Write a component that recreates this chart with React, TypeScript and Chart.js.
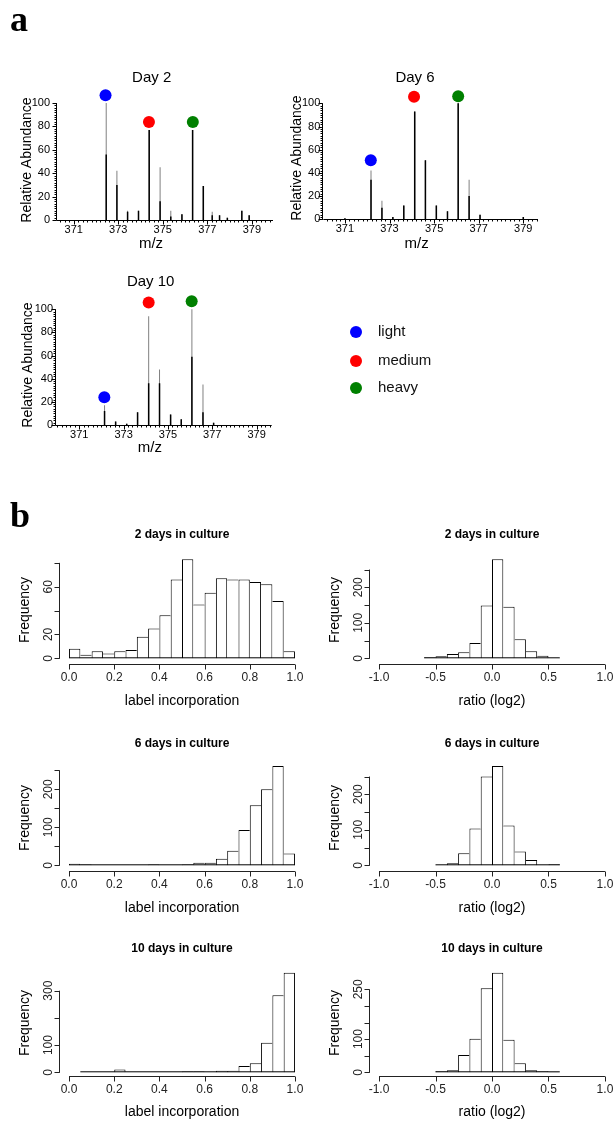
import React, { useEffect, useRef } from "react";
import { Chart, registerables } from "chart.js";

Chart.register(...registerables);

const PAGE_W = 615;
const PAGE_H = 1125;
const SANS = "'Liberation Sans', Arial, Helvetica, sans-serif";
const SERIF = "'Liberation Serif', 'Times New Roman', serif";

// ---------------- Panel a: mass spectra ----------------
const MZ_TICKS = [371, 373, 375, 377, 379];
const MZ_TICK_LABELS = ["371", "373", "375", "377", "379"];
const ABUND_TICKS = [0, 20, 40, 60, 80, 100];
const ABUND_TICK_LABELS = ["0", "20", "40", "60", "80", "100"];

const DAY2_MZ = [372.46, 372.94, 373.42, 373.91, 374.39, 374.88, 375.36, 375.86, 376.34, 376.82, 377.22, 377.55, 377.9, 378.55, 378.88];
const DAY2_TOTAL = [100, 42, 8, 8, 77, 45, 8, 5, 77, 29, 7, 4, 2, 8, 4];
const DAY2_CORE = [56, 30, 7, 8, 77, 16, 3, 5, 77, 29, 4, 4, 2, 8, 4];
const DAY2_DOT_MZ = [372.43, 374.38, 376.35];
const DAY2_DOT_Y = [106.6, 83.7, 83.7];

const DAY6_MZ = [371.0, 372.17, 372.66, 373.15, 373.64, 374.13, 374.61, 375.1, 375.6, 376.08, 376.57, 377.06, 379.0];
const DAY6_TOTAL = [1, 42, 16, 2, 12, 93, 51, 12, 7, 100, 34, 4, 2];
const DAY6_CORE = [1, 34, 10, 2, 12, 93, 51, 12, 7, 100, 20, 4, 2];
const DAY6_DOT_MZ = [372.16, 374.1, 376.08];
const DAY6_DOT_Y = [51, 105.7, 106];

const DAY10_MZ = [372.14, 372.64, 373.14, 373.63, 374.13, 374.62, 375.12, 375.6, 376.08, 376.58, 377.06];
const DAY10_TOTAL = [17, 3, 1, 11, 94, 48, 9, 5, 100, 35, 2];
const DAY10_CORE = [12, 3, 1, 11, 36, 36, 9, 5, 59, 11, 2];
const DAY10_DOT_MZ = [372.13, 374.13, 376.07];
const DAY10_DOT_Y = [24, 105.8, 107];

const LABEL_NAMES = ["light", "medium", "heavy"];
const LABEL_COLORS = ["#0000ff", "#ff0000", "#008000"];

// ---------------- Panel b: histograms ----------------
const INC_TICKS = [0, 0.2, 0.4, 0.6, 0.8, 1.0];
const INC_TICK_LABELS = ["0.0", "0.2", "0.4", "0.6", "0.8", "1.0"];
const RATIO_TICKS = [-1, -0.5, 0, 0.5, 1];
const RATIO_TICK_LABELS = ["-1.0", "-0.5", "0.0", "0.5", "1.0"];

const INC_BINS_A = [0.025, 0.075, 0.125, 0.175, 0.225, 0.275, 0.325, 0.375, 0.425, 0.475, 0.525, 0.575, 0.625, 0.675, 0.725, 0.775, 0.825, 0.875, 0.925, 0.975];
const INC_BINS_B = [0.075, 0.125, 0.175, 0.225, 0.275, 0.325, 0.375, 0.425, 0.475, 0.525, 0.575, 0.625, 0.675, 0.725, 0.775, 0.825, 0.875, 0.925, 0.975];
const INC2_COUNTS = [8, 3, 6, 4, 6, 7, 18, 25, 36, 66, 83, 45, 55, 67, 66, 66, 64, 62, 48, 6];
const INC6_COUNTS = [4, 2, 0, 0, 0, 0, 0, 2, 0, 0, 2, 7, 7, 17, 38, 93, 158, 200, 261, 31];
const INC10_COUNTS = [0, 0, 0, 10, 0, 0, 0, 0, 0, 3, 3, 0, 6, 6, 23, 33, 109, 283, 366];

const RATIO_BINS_A = [-0.55, -0.45, -0.35, -0.25, -0.15, -0.05, 0.05, 0.15, 0.25, 0.35, 0.45, 0.55];
const RATIO_BINS_B = [-0.45, -0.35, -0.25, -0.15, -0.05, 0.05, 0.15, 0.25, 0.35, 0.45, 0.55];
const RATIO2_COUNTS = [3, 6, 12, 17, 43, 149, 279, 145, 54, 20, 7, 1];
const RATIO6_COUNTS = [1, 6, 34, 104, 250, 280, 112, 39, 15, 0, 3];
const RATIO10_COUNTS = [3, 6, 52, 101, 253, 300, 98, 27, 6, 3, 1];

const FREQ2I_TICKS = [0, 20, 40, 60, 80];
const FREQ2I_LABELS = ["0", "20", "", "60", ""];
const FREQ250_TICKS = [0, 50, 100, 150, 200, 250];
const FREQ2R_LABELS = ["0", "", "100", "", "200", ""];
const FREQ6_LABELS = ["0", "", "100", "", "200", ""];
const FREQ10I_TICKS = [0, 100, 200, 300];
const FREQ10I_LABELS = ["0", "100", "", "300"];
const FREQ10R_LABELS = ["0", "", "100", "", "", "250"];

// ---------------- drawing helpers ----------------
type AxisSpec = {
  side: "bottom" | "left";
  ticks: number[];
  labels: string[];
  span?: [number, number];
  minor?: number[];
  tickLen: number;
  minorLen?: number;
  gap: number;
  rotate?: boolean;
  font: string;
  color: string;
};
type TextSpec = { text: string; x: number; y: number; font: string; rotate?: boolean };

function steps(a: number, b: number, s: number) {
  const out: number[] = [];
  const n = Math.round((b - a) / s);
  for (let i = 0; i <= n; i++) out.push(+(a + i * s).toFixed(4));
  return out;
}

function makeDecor(axes: AxisSpec[], texts: TextSpec[], baseline?: [number, number]) {
  return {
    id: "decor",
    afterDatasetsDraw(chart: any) {
      const ctx = chart.ctx as CanvasRenderingContext2D;
      const ca = chart.chartArea;
      const xs = chart.scales.x;
      const ys = chart.scales.y;
      ctx.save();
      ctx.lineWidth = 1;
      if (baseline) {
        const y = ys.getPixelForValue(0) - 0.5;
        ctx.strokeStyle = "#000";
        ctx.beginPath();
        ctx.moveTo(xs.getPixelForValue(baseline[0]), y);
        ctx.lineTo(xs.getPixelForValue(baseline[1]), y);
        ctx.stroke();
      }
      for (const a of axes) {
        ctx.strokeStyle = a.color;
        ctx.fillStyle = a.color;
        ctx.font = a.font;
        const span = a.span || [a.ticks[0], a.ticks[a.ticks.length - 1]];
        ctx.beginPath();
        if (a.side === "bottom") {
          const y = Math.round(ca.bottom) + 0.5;
          const px = (v: number) => xs.getPixelForValue(v);
          ctx.moveTo(px(span[0]), y);
          ctx.lineTo(px(span[1]), y);
          for (const v of a.ticks) {
            const x = Math.round(px(v)) + 0.5;
            ctx.moveTo(x, y);
            ctx.lineTo(x, y + a.tickLen);
          }
          for (const v of a.minor || []) {
            const x = Math.round(px(v)) + 0.5;
            ctx.moveTo(x, y);
            ctx.lineTo(x, y + (a.minorLen || 2));
          }
          ctx.stroke();
          ctx.textAlign = "center";
          ctx.textBaseline = "middle";
          a.ticks.forEach((v, i) => {
            if (a.labels[i]) ctx.fillText(a.labels[i], px(v), ca.bottom + a.gap);
          });
        } else {
          const x = Math.round(ca.left) - 0.5;
          const py = (v: number) => ys.getPixelForValue(v);
          ctx.moveTo(x, py(span[0]) + 0.5);
          ctx.lineTo(x, py(span[1]));
          for (const v of a.ticks) {
            const y = Math.round(py(v)) + 0.5;
            ctx.moveTo(x, y);
            ctx.lineTo(x - a.tickLen, y);
          }
          for (const v of a.minor || []) {
            const y = Math.round(py(v)) + 0.5;
            ctx.moveTo(x, y);
            ctx.lineTo(x - (a.minorLen || 2), y);
          }
          ctx.stroke();
          a.ticks.forEach((v, i) => {
            const lab = a.labels[i];
            if (!lab) return;
            if (a.rotate) {
              ctx.save();
              ctx.translate(ca.left - a.gap, py(v));
              ctx.rotate(-Math.PI / 2);
              ctx.textAlign = "center";
              ctx.textBaseline = "middle";
              ctx.fillText(lab, 0, 0);
              ctx.restore();
            } else {
              ctx.textAlign = "right";
              ctx.textBaseline = "middle";
              ctx.fillText(lab, ca.left - a.gap, py(v));
            }
          });
        }
      }
      ctx.fillStyle = "#000";
      for (const t of texts) {
        ctx.save();
        ctx.font = t.font;
        ctx.textAlign = "center";
        ctx.textBaseline = "middle";
        ctx.translate(t.x, t.y);
        if (t.rotate) ctx.rotate(-Math.PI / 2);
        ctx.fillText(t.text, 0, 0);
        ctx.restore();
      }
      ctx.restore();
    },
  };
}

function padFor(g: { left: number; right: number; top: number; bottom: number }) {
  return { left: g.left, right: PAGE_W - g.right, top: g.top, bottom: PAGE_H - g.bottom };
}

type SpecDef = {
  title: string;
  mz: number[];
  total: number[];
  core: number[];
  dotMz: number[];
  dotY: number[];
  xMin: number;
  xMax: number;
  left: number;
  right: number;
  bottom: number;
  per100: number;
  titleX: number;
  titleY: number;
  yTitleX: number;
  yTitleY: number;
  xTitleY: number;
  yGap: number;
};

const Y_TOP_VALUE = 115;

function spectrumConfig(s: SpecDef): any {
  const top = s.bottom - (Y_TOP_VALUE / 100) * s.per100;
  const g = { left: s.left, right: s.right, top, bottom: s.bottom };
  const xMinor = steps(Math.ceil(s.xMin * 5) / 5, Math.floor(s.xMax * 5) / 5, 0.2);
  const yMinor = steps(0, 100, 2);
  const axisFont = `11px ${SANS}`;
  const axes: AxisSpec[] = [
    { side: "bottom", ticks: MZ_TICKS, labels: MZ_TICK_LABELS, span: [s.xMin, s.xMax], minor: xMinor, tickLen: 4, minorLen: 2, gap: 10, font: axisFont, color: "#000" },
    { side: "left", ticks: ABUND_TICKS, labels: ABUND_TICK_LABELS, span: [0, 100], minor: yMinor, tickLen: 4, minorLen: 2, gap: s.yGap, font: axisFont, color: "#000" },
  ];
  const midX = (s.left + s.right) / 2;
  const texts: TextSpec[] = [
    { text: s.title, x: s.titleX, y: s.titleY, font: `15px ${SANS}` },
    { text: "Relative Abundance", x: s.yTitleX, y: s.yTitleY, font: `14px ${SANS}`, rotate: true },
    { text: "m/z", x: midX - 14, y: s.xTitleY, font: `15px ${SANS}` },
  ];
  return {
    type: "bar",
    data: {
      datasets: [
        {
          type: "scatter",
          data: s.dotMz.map((x, i) => ({ x, y: s.dotY[i] })),
          backgroundColor: LABEL_COLORS,
          borderWidth: 0,
          pointRadius: 6,
          pointBorderWidth: 0,
          order: 0,
        },
        {
          data: s.mz.map((x, i) => ({ x, y: s.core[i] })),
          backgroundColor: "#000",
          grouped: false,
          maxBarThickness: 1.5,
          inflateAmount: 0,
          order: 1,
        },
        {
          data: s.mz.map((x, i) => ({ x, y: s.total[i] })),
          backgroundColor: "#808080",
          grouped: false,
          maxBarThickness: 1,
          inflateAmount: 0,
          order: 2,
        },
      ],
    },
    options: {
      responsive: false,
      animation: false,
      events: [],
      layout: { padding: padFor(g) },
      plugins: { legend: { display: false }, tooltip: { enabled: false }, title: { display: false } },
      scales: {
        x: {
          type: "linear",
          display: false,
          offset: false,
          min: s.xMin,
          max: s.xMax,
          afterBuildTicks: (sc: any) => {
            sc.ticks = [{ value: sc.min }, { value: sc.max }];
          },
        },
        y: { type: "linear", display: false, min: 0, max: Y_TOP_VALUE },
      },
    },
    plugins: [makeDecor(axes, texts)],
  };
}

type HistDef = {
  title: string;
  xTitle: string;
  bins: number[];
  counts: number[];
  xTicks: number[];
  xLabels: string[];
  xMin: number;
  xMax: number;
  yTicks: number[];
  yLabels: string[];
  left: number;
  right: number;
  top: number;
  bottom: number;
  zero: number;
  k: number;
  titleY: number;
  freqX: number;
  freqY: number;
  xTitleY: number;
};

function histConfig(h: HistDef): any {
  const g = { left: h.left, right: h.right, top: h.top, bottom: h.bottom };
  const yMin = -(h.bottom - h.zero) / h.k;
  const yMax = (h.zero - h.top) / h.k;
  const half = (h.bins[1] - h.bins[0]) / 2;
  const tickFont = `12px ${SANS}`;
  const axes: AxisSpec[] = [
    { side: "bottom", ticks: h.xTicks, labels: h.xLabels, tickLen: 5, gap: 13.5, font: tickFont, color: "#222" },
    { side: "left", ticks: h.yTicks, labels: h.yLabels, tickLen: 5, gap: 11, rotate: true, font: tickFont, color: "#222" },
  ];
  const midX = (h.left + h.right) / 2;
  const texts: TextSpec[] = [
    { text: h.title, x: midX, y: h.titleY, font: `bold 12px ${SANS}` },
    { text: "Frequency", x: h.freqX, y: h.freqY, font: `14px ${SANS}`, rotate: true },
    { text: h.xTitle, x: midX, y: h.xTitleY, font: `14px ${SANS}` },
  ];
  const counts = h.counts;
  return {
    type: "bar",
    data: {
      datasets: [
        {
          data: h.bins.map((x, i) => ({ x, y: counts[i] })),
          backgroundColor: "#fff",
          borderColor: "#000",
          borderSkipped: false,
          inflateAmount: 0,
          barPercentage: 1,
          categoryPercentage: 1,
          borderWidth: (c: any) => {
            const i = c.dataIndex;
            if (i === undefined || counts[i] === undefined) return 0;
            const v = counts[i];
            const prev = i > 0 ? counts[i - 1] : -1;
            const next = i < counts.length - 1 ? counts[i + 1] : -1;
            return { top: 1, left: prev <= v ? 1 : 0, right: next < v ? 1 : 0, bottom: 0 };
          },
        },
      ],
    },
    options: {
      responsive: false,
      animation: false,
      events: [],
      layout: { padding: padFor(g) },
      plugins: { legend: { display: false }, tooltip: { enabled: false }, title: { display: false } },
      scales: {
        x: {
          type: "linear",
          display: false,
          offset: false,
          min: h.xMin,
          max: h.xMax,
          afterBuildTicks: (sc: any) => {
            sc.ticks = [{ value: sc.min }, { value: sc.max }];
          },
        },
        y: { type: "linear", display: false, min: yMin, max: yMax },
      },
    },
    plugins: [makeDecor(axes, texts, [h.bins[0] - half, h.bins[h.bins.length - 1] + half])],
  };
}

// ---------------- plot definitions ----------------
const SPECTRA: SpecDef[] = [
  { title: "Day 2", mz: DAY2_MZ, total: DAY2_TOTAL, core: DAY2_CORE, dotMz: DAY2_DOT_MZ, dotY: DAY2_DOT_Y, xMin: 370.25, xMax: 379.95, left: 57, right: 273, bottom: 220, per100: 117, titleX: 151.7, titleY: 78.3, yTitleX: 27, yTitleY: 160, xTitleY: 244, yGap: 7 },
  { title: "Day 6", mz: DAY6_MZ, total: DAY6_TOTAL, core: DAY6_CORE, dotMz: DAY6_DOT_MZ, dotY: DAY6_DOT_Y, xMin: 370.03, xMax: 379.66, left: 323.3, right: 538, bottom: 219.3, per100: 116, titleX: 415, titleY: 77.7, yTitleX: 297, yTitleY: 158, xTitleY: 244, yGap: 3 },
  { title: "Day 10", mz: DAY10_MZ, total: DAY10_TOTAL, core: DAY10_CORE, dotMz: DAY10_DOT_MZ, dotY: DAY10_DOT_Y, xMin: 369.95, xMax: 379.68, left: 56, right: 271.7, bottom: 425, per100: 115.7, titleX: 150.7, titleY: 281.7, yTitleX: 28, yTitleY: 365, xTitleY: 448, yGap: 3 },
];

const LEFT_COL = { left: 60, right: 304, xMin: -0.04, xMax: 1.04, freqX: 25 };
const RIGHT_COL = { left: 370, right: 614, xMin: -1.08, xMax: 1.08, freqX: 335 };
const ROW1 = { top: 539, bottom: 664, zero: 658.3, titleY: 535, freqY: 610, xTitleY: 700.7 };
const ROW2 = { top: 746, bottom: 871, zero: 865.3, titleY: 743.3, freqY: 818, xTitleY: 907.7 };
const ROW3 = { top: 951, bottom: 1075.7, zero: 1072.3, titleY: 948.3, freqY: 1023, xTitleY: 1112.4 };

const HISTS: HistDef[] = [
  { title: "2 days in culture", xTitle: "label incorporation", bins: INC_BINS_A, counts: INC2_COUNTS, xTicks: INC_TICKS, xLabels: INC_TICK_LABELS, yTicks: FREQ2I_TICKS, yLabels: FREQ2I_LABELS, k: 1.193, ...LEFT_COL, ...ROW1 },
  { title: "2 days in culture", xTitle: "ratio (log2)", bins: RATIO_BINS_A, counts: RATIO2_COUNTS, xTicks: RATIO_TICKS, xLabels: RATIO_TICK_LABELS, yTicks: FREQ250_TICKS, yLabels: FREQ2R_LABELS, k: 0.355, ...RIGHT_COL, ...ROW1 },
  { title: "6 days in culture", xTitle: "label incorporation", bins: INC_BINS_A, counts: INC6_COUNTS, xTicks: INC_TICKS, xLabels: INC_TICK_LABELS, yTicks: FREQ250_TICKS, yLabels: FREQ6_LABELS, k: 0.38, ...LEFT_COL, ...ROW2 },
  { title: "6 days in culture", xTitle: "ratio (log2)", bins: RATIO_BINS_B, counts: RATIO6_COUNTS, xTicks: RATIO_TICKS, xLabels: RATIO_TICK_LABELS, yTicks: FREQ250_TICKS, yLabels: FREQ6_LABELS, k: 0.355, ...RIGHT_COL, ...ROW2 },
  { title: "10 days in culture", xTitle: "label incorporation", bins: INC_BINS_B, counts: INC10_COUNTS, xTicks: INC_TICKS, xLabels: INC_TICK_LABELS, yTicks: FREQ10I_TICKS, yLabels: FREQ10I_LABELS, k: 0.272, ...LEFT_COL, ...ROW3 },
  { title: "10 days in culture", xTitle: "ratio (log2)", bins: RATIO_BINS_B, counts: RATIO10_COUNTS, xTicks: RATIO_TICKS, xLabels: RATIO_TICK_LABELS, yTicks: FREQ250_TICKS, yLabels: FREQ10R_LABELS, k: 0.332, ...RIGHT_COL, ...ROW3 },
];

function ChartLayer({ make }: { make: () => any }) {
  const ref = useRef<HTMLCanvasElement>(null);
  useEffect(() => {
    if (!ref.current) return;
    const chart = new Chart(ref.current, make());
    return () => chart.destroy();
  }, []);
  return (
    <canvas
      ref={ref}
      width={PAGE_W}
      height={PAGE_H}
      style={{ position: "absolute", left: 0, top: 0, width: PAGE_W, height: PAGE_H }}
    />
  );
}

const LEGEND_POS = { dotX: 355.7, textX: 378, ys: [332.3, 360.5, 387.7] };

export default function App() {
  return (
    <div style={{ position: "absolute", left: 0, top: 0, width: PAGE_W, height: PAGE_H, background: "#fff", overflow: "hidden" }}>
      {SPECTRA.map((s, i) => (
        <ChartLayer key={"s" + i} make={() => spectrumConfig(s)} />
      ))}
      {HISTS.map((h, i) => (
        <ChartLayer key={"h" + i} make={() => histConfig(h)} />
      ))}
      <div style={{ position: "absolute", left: 10, top: 1, font: `bold 36px ${SERIF}`, lineHeight: "36px" }}>a</div>
      <div style={{ position: "absolute", left: 10, top: 497, font: `bold 36px ${SERIF}`, lineHeight: "36px" }}>b</div>
      {LABEL_NAMES.map((name, i) => (
        <React.Fragment key={name}>
          <div
            style={{
              position: "absolute",
              left: LEGEND_POS.dotX - 6,
              top: LEGEND_POS.ys[i] - 6,
              width: 12,
              height: 12,
              borderRadius: 6,
              background: LABEL_COLORS[i],
            }}
          />
          <div
            style={{
              position: "absolute",
              left: LEGEND_POS.textX,
              top: LEGEND_POS.ys[i] - 10,
              height: 20,
              lineHeight: "20px",
              font: `15px ${SANS}`,
              color: "#111",
            }}
          >
            {name}
          </div>
        </React.Fragment>
      ))}
    </div>
  );
}
